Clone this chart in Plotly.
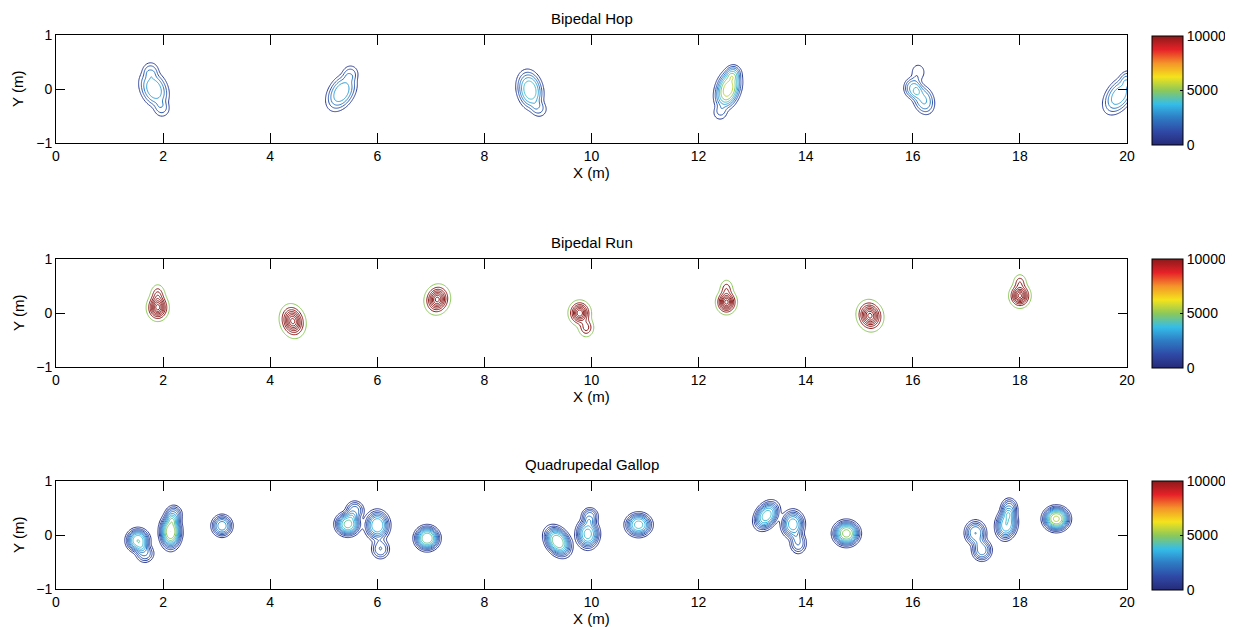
import numpy as np
import plotly.graph_objects as go

# ---------------- tick labels / titles ----------------
x_ticks = [0, 2, 4, 6, 8, 10, 12, 14, 16, 18, 20]
y_ticks = [-1, 0, 1]
cbar_ticks = [0, 5000, 10000]
cbar_text = ["0", "5000", "10000"]
panel_titles = ["Bipedal Hop", "Bipedal Run", "Quadrupedal Gallop"]

# ---------------- footprint pressure blobs ----------------
# Bipedal Hop
hop_x     = [1.83, 1.77, 1.98, 5.33, 5.50, 8.85, 9.03, 12.55, 12.65, 12.40, 16.00, 16.20, 16.10, 19.85, 20.02]
hop_y     = [0.00, 0.36, -0.38, -0.06, 0.30, -0.02, -0.38, 0.00, 0.30, -0.45, 0.02, -0.20, 0.31, -0.12, 0.20]
hop_peak  = [3800, 1500, 1500, 3800, 1500, 4600, 1500, 6000, 1800, 1400, 3300, 3300, 1500, 3700, 1600]
hop_sx    = [0.18, 0.11, 0.11, 0.17, 0.11, 0.17, 0.11, 0.16, 0.10, 0.10, 0.12, 0.14, 0.10, 0.17, 0.11]
hop_sy    = [0.26, 0.11, 0.11, 0.27, 0.11, 0.26, 0.11, 0.27, 0.10, 0.10, 0.14, 0.20, 0.12, 0.28, 0.11]
hop_angle = [25, 0, 0, -32, 0, 12, 0, -18, 0, 0, 0, 20, 0, -35, 0]
hop_levels = [800, 1600, 2400, 3200, 4000, 4800, 5600]
hop_shape = 3

# Bipedal Run
run_x     = [1.90, 1.90, 4.42, 7.12, 9.78, 9.90, 12.52, 12.52, 15.20, 18.00, 18.00]
run_y     = [0.10, 0.34, -0.15, 0.25, 0.00, -0.27, 0.20, 0.45, -0.05, 0.32, 0.57]
run_peak  = [80000, 26000, 80000, 80000, 75000, 30000, 80000, 22000, 80000, 80000, 22000]
run_sx    = [0.092, 0.07, 0.105, 0.105, 0.095, 0.075, 0.088, 0.065, 0.11, 0.09, 0.065]
run_sy    = [0.11, 0.10, 0.14, 0.125, 0.105, 0.09, 0.10, 0.09, 0.13, 0.10, 0.08]
run_angle = [0, 0, 15, -15, 0, 0, 0, 0, 15, 0, 0]
run_levels = [5000, 15000, 25000, 35000, 45000, 55000, 65000, 75000]
run_shape = 2

# Quadrupedal Gallop
gal_x     = [1.53, 1.66, 2.14, 2.20, 3.10, 5.45, 5.58, 6.00, 6.06, 6.93, 9.37, 9.93, 9.97, 10.88,
             13.27, 13.76, 13.86, 14.76, 17.17, 17.29, 17.75, 17.80, 18.68]
gal_y     = [-0.10, -0.34, 0.06, 0.38, 0.17, 0.20, 0.46, 0.18, -0.26, -0.06, -0.12, 0.02, 0.35, 0.19,
             0.36, 0.20, -0.15, 0.03, 0.04, -0.28, 0.20, 0.50, 0.30]
gal_peak  = [4500, 2000, 5500, 2200, 3300, 4700, 2200, 4000, 2000, 5000, 5000, 4200, 2200, 4200,
             4300, 3800, 2000, 5200, 3000, 2800, 4000, 2200, 5600]
gal_sx    = [0.15, 0.12, 0.14, 0.11, 0.135, 0.16, 0.12, 0.16, 0.12, 0.16, 0.15, 0.15, 0.11, 0.17,
             0.14, 0.15, 0.11, 0.17, 0.14, 0.13, 0.14, 0.11, 0.17]
gal_sy    = [0.15, 0.12, 0.22, 0.12, 0.14, 0.15, 0.12, 0.19, 0.13, 0.155, 0.21, 0.19, 0.11, 0.15,
             0.20, 0.18, 0.14, 0.16, 0.16, 0.14, 0.20, 0.13, 0.155]
gal_angle = [0, 0, 0, 0, 0, 0, 0, 0, 0, 0, 35, 0, 0, 0,
             -35, 0, 0, 0, 0, 0, -10, 0, 0]
gal_levels = [500, 1000, 1500, 2000, 2500, 3000, 3500, 4000, 4500, 5000, 5500]
gal_shape = 3

# ---------------- colour map (muted jet as in the picture) ----------------
cmap_pos = [0.0, 0.125, 0.25, 0.375, 0.5, 0.625, 0.75, 0.875, 1.0]
cmap_col = ["#262a78", "#2f4aa6", "#2e7cc4", "#35bde9", "#8cc85a",
            "#f4e31c", "#f4942a", "#e62128", "#8b1a1a"]
CMIN, CMAX = 0, 10000


def hex2rgb(h):
    h = h.lstrip("#")
    return [int(h[i:i + 2], 16) for i in (0, 2, 4)]


def color_at(f):
    f = min(max(f, 0.0), 1.0)
    for i in range(len(cmap_pos) - 1):
        if f <= cmap_pos[i + 1]:
            t = (f - cmap_pos[i]) / (cmap_pos[i + 1] - cmap_pos[i])
            a, b = hex2rgb(cmap_col[i]), hex2rgb(cmap_col[i + 1])
            c = [round(a[k] + (b[k] - a[k]) * t) for k in range(3)]
            return "rgb(%d,%d,%d)" % tuple(c)
    return cmap_col[-1]


full_scale = [[p, c] for p, c in zip(cmap_pos, cmap_col)]


def level_scale(levels):
    n = len(levels)
    return [[k / (n - 1), color_at((lv - CMIN) / (CMAX - CMIN))] for k, lv in enumerate(levels)]


# ---------------- fields ----------------
gx = np.arange(-0.2, 20.6, 0.02)
gy = np.arange(-1.0, 1.0001, 0.02)
GX, GY = np.meshgrid(gx, gy)


def field(bx, by, bp, bsx, bsy, bang, shape):
    Z = np.zeros_like(GX)
    for x0, y0, p, sx, sy, a in zip(bx, by, bp, bsx, bsy, bang):
        t = np.deg2rad(a)
        dx, dy = GX - x0, GY - y0
        u = dx * np.cos(t) + dy * np.sin(t)
        v = -dx * np.sin(t) + dy * np.cos(t)
        r = np.sqrt((u / sx) ** 2 + (v / sy) ** 2)
        Z += p * np.exp(-0.5 * r ** shape)
    return Z.astype(np.float32)


panels = [
    (field(hop_x, hop_y, hop_peak, hop_sx, hop_sy, hop_angle, hop_shape), hop_levels),
    (field(run_x, run_y, run_peak, run_sx, run_sy, run_angle, run_shape), run_levels),
    (field(gal_x, gal_y, gal_peak, gal_sx, gal_sy, gal_angle, gal_shape), gal_levels),
]

# ---------------- layout geometry (page pixels; page body has an 8px margin) ----------------
OFF = 8
W, H = 1233 - OFF, 627 - OFF
ax_left, ax_right = 56 - OFF, 1127 - OFF
ax_tops = [35 - OFF, 259 - OFF, 481 - OFF]
ax_h = 108
cb_tops = [36 - OFF, 259 - OFF, 481 - OFF]
cb_len = 109
cb_left, cb_thick = 1152 - OFF, 31

fig = go.Figure()
FONT = "Liberation Sans, Arial, Helvetica, sans-serif"

layout = dict(
    width=W, height=H, margin=dict(l=0, r=0, t=0, b=0, autoexpand=False),
    paper_bgcolor="white", plot_bgcolor="white",
    showlegend=False, font=dict(family=FONT, size=14, color="black"),
)
annotations = []

for i, (Z, levels) in enumerate(panels):
    xa = "x" if i == 0 else "x%d" % (i + 1)
    ya = "y" if i == 0 else "y%d" % (i + 1)
    fig.add_trace(go.Contour(
        x=gx, y=gy, z=Z, xaxis=xa, yaxis=ya,
        autocontour=False,
        contours=dict(start=levels[0], end=levels[-1], size=levels[1] - levels[0],
                      coloring="lines", showlabels=False),
        line=dict(width=1.0, smoothing=1),
        colorscale=level_scale(levels), showscale=False, hoverinfo="skip",
    ))
    # colorbar carrier
    cb_c = 1 - (cb_tops[i] + cb_len / 2) / H
    fig.add_trace(go.Scatter(
        x=[None], y=[None], xaxis=xa, yaxis=ya, mode="markers",
        marker=dict(color=[CMIN], cmin=CMIN, cmax=CMAX, colorscale=full_scale, showscale=True,
                    colorbar=dict(x=cb_left / W, xanchor="left", xpad=0, ypad=0,
                                  y=cb_c, yanchor="middle", len=cb_len, lenmode="pixels",
                                  thickness=cb_thick, thicknessmode="pixels",
                                  outlinecolor="black", outlinewidth=1,
                                  tickvals=cbar_ticks, ticktext=cbar_text,
                                  ticks="inside", ticklen=3, tickcolor="black",
                                  tickfont=dict(size=14, family=FONT))),
        hoverinfo="skip",
    ))
    top = ax_tops[i]
    dom_y = [1 - (top + ax_h) / H, 1 - top / H]
    dom_x = [ax_left / W, ax_right / W]
    kx = "xaxis" if i == 0 else "xaxis%d" % (i + 1)
    ky = "yaxis" if i == 0 else "yaxis%d" % (i + 1)
    layout[kx] = dict(domain=dom_x, range=[0, 20], anchor=ya, tickvals=x_ticks,
                      ticks="inside", ticklen=10, tickcolor="black", mirror="allticks",
                      showline=True, linecolor="black", linewidth=1, showgrid=False,
                      zeroline=False, tickfont=dict(size=14))
    layout[ky] = dict(domain=dom_y, range=[-1, 1], anchor=xa, tickvals=y_ticks,
                      ticks="inside", ticklen=9, tickcolor="black", mirror="allticks",
                      showline=True, linecolor="black", linewidth=1, showgrid=False,
                      zeroline=False, tickfont=dict(size=14))
    xc = (dom_x[0] + dom_x[1]) / 2
    annotations.append(dict(text=panel_titles[i], x=xc, y=dom_y[1], xref="paper", yref="paper",
                            xanchor="center", yanchor="bottom", yshift=6, showarrow=False,
                            font=dict(size=15)))
    annotations.append(dict(text="X (m)", x=xc, y=dom_y[0], xref="paper", yref="paper",
                            xanchor="center", yanchor="top", yshift=-19, showarrow=False,
                            font=dict(size=15)))
    annotations.append(dict(text="Y (m)", x=(18 - OFF) / W, y=(dom_y[0] + dom_y[1]) / 2,
                            xref="paper", yref="paper", xanchor="center", yanchor="middle",
                            textangle=-90, showarrow=False, font=dict(size=15)))

layout["annotations"] = annotations
fig.update_layout(**layout)
fig.write_html("out.html")
